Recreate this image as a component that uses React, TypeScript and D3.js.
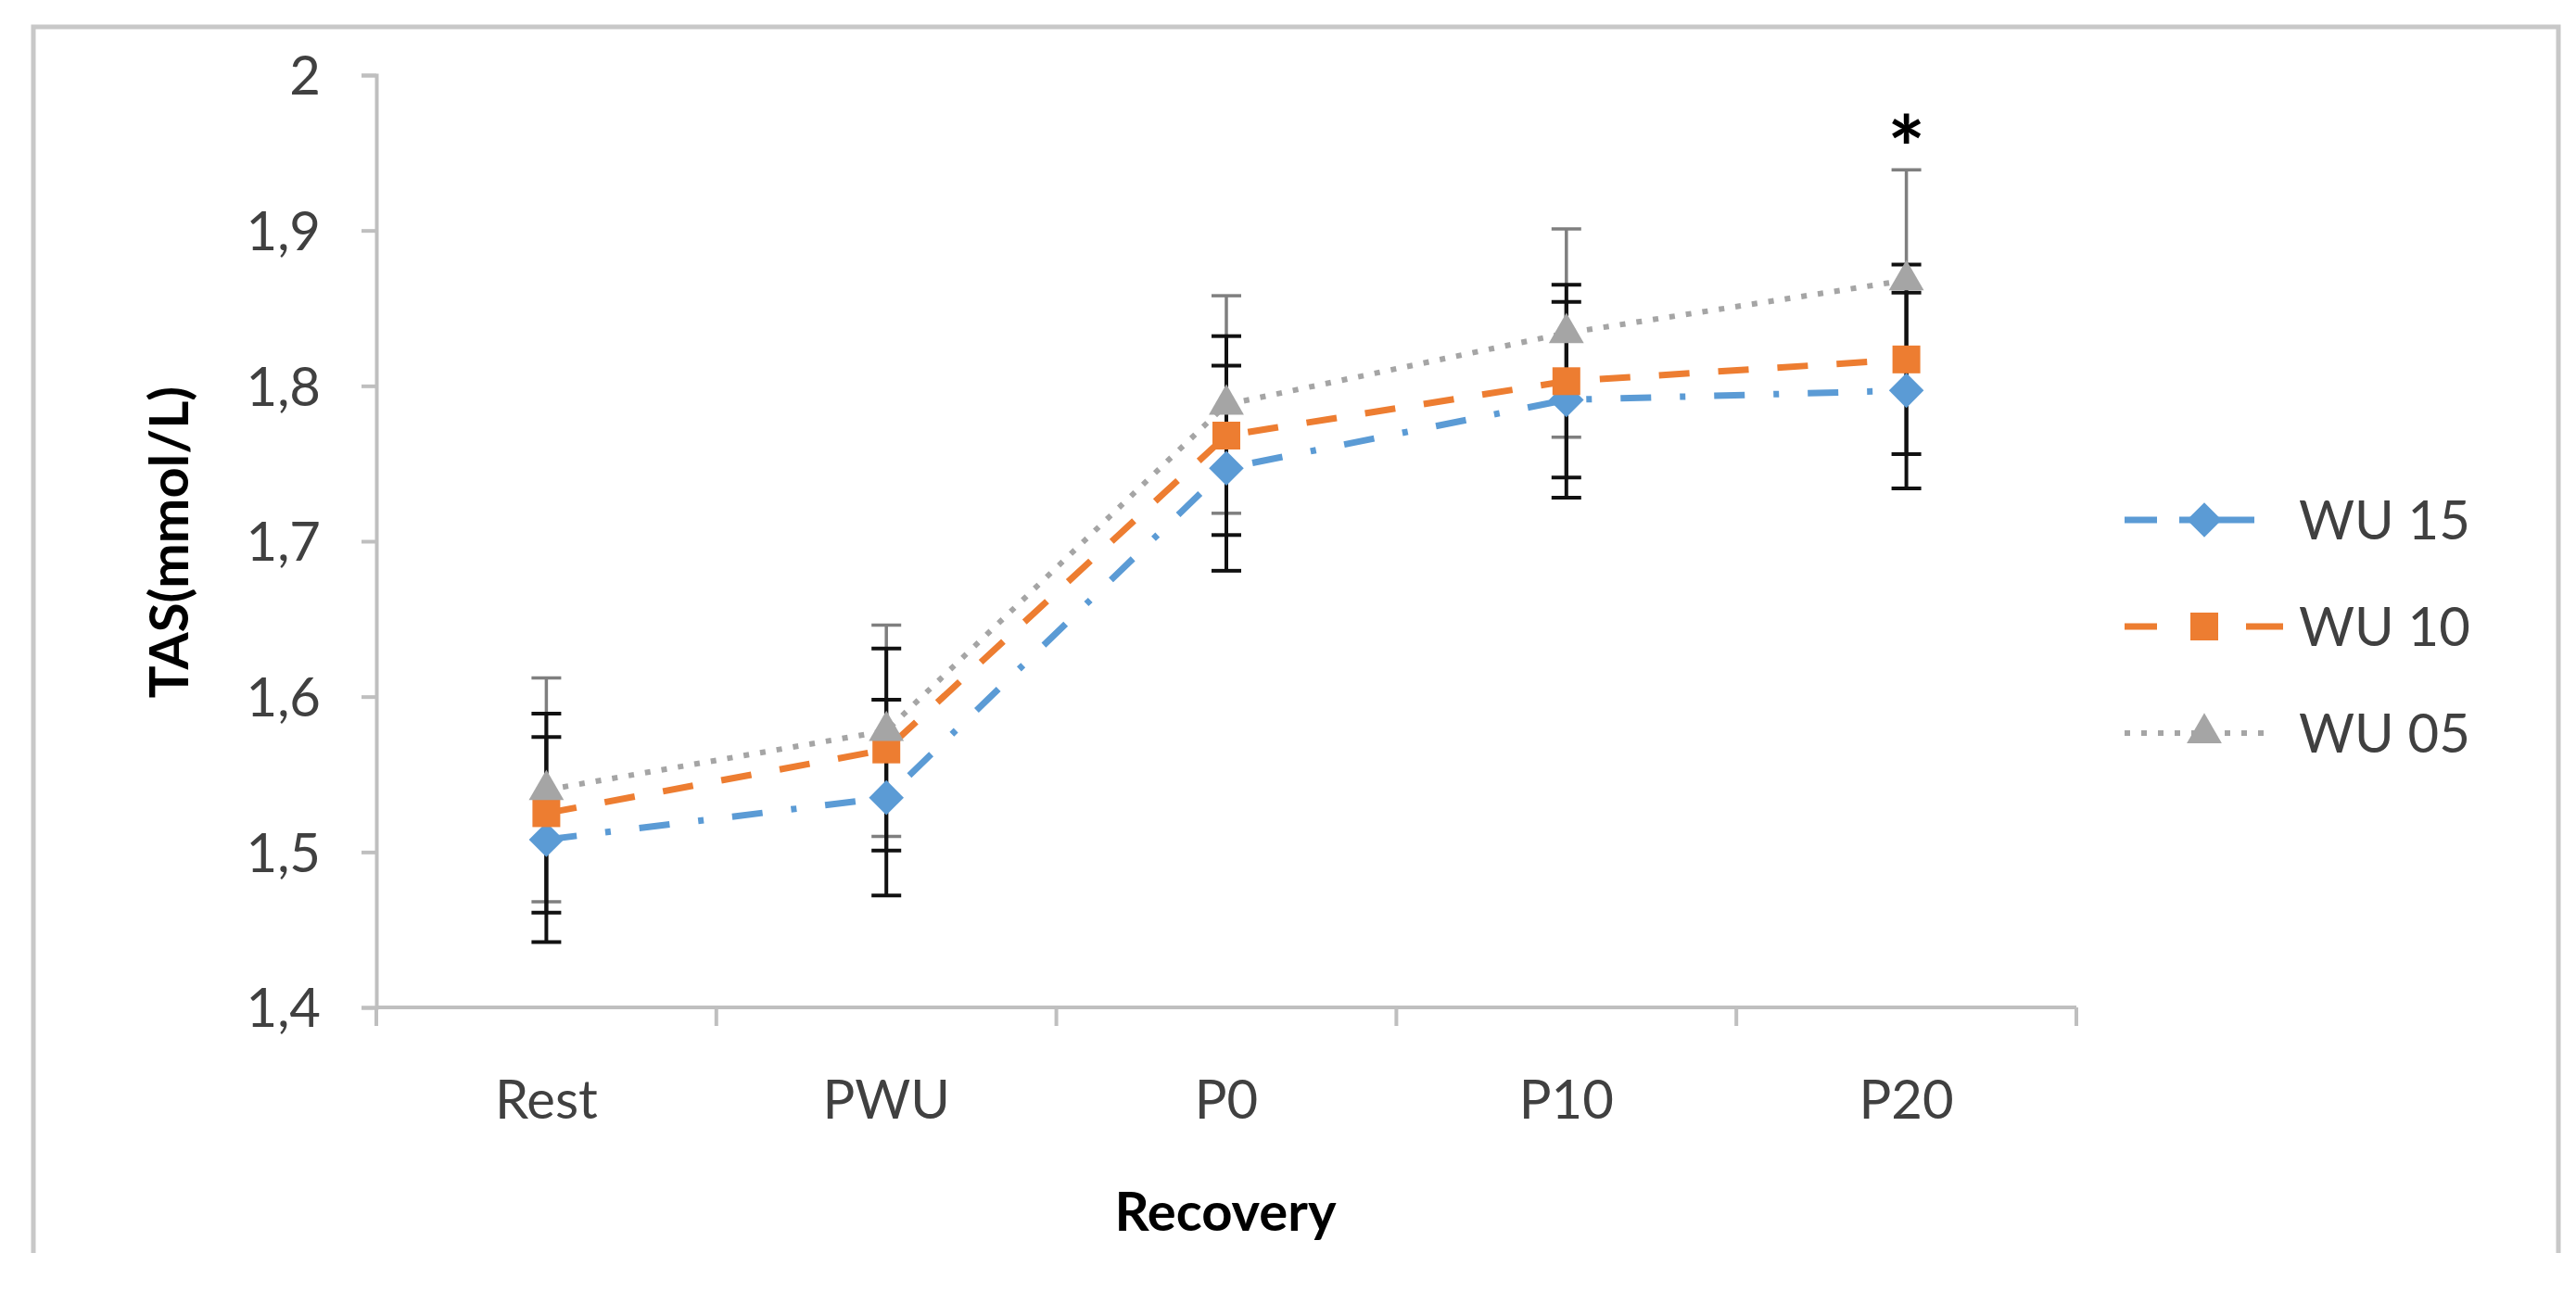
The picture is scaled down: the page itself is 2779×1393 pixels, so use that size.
import * as d3 from 'd3';
import * as React from 'react';

// values (TAS, mmol/L), mean and SD per time point
const categories = ['Rest', 'PWU', 'P0', 'P10', 'P20'];
const seriesNames = ['WU 15', 'WU 10', 'WU 05'];
const wu15Mean = [1.508, 1.535, 1.747, 1.791, 1.797];
const wu15Sd = [0.066, 0.063, 0.066, 0.063, 0.063];
const wu10Mean = [1.525, 1.566, 1.768, 1.803, 1.817];
const wu10Sd = [0.064, 0.065, 0.064, 0.062, 0.061];
const wu05Mean = [1.54, 1.578, 1.788, 1.834, 1.868];
const wu05Sd = [0.072, 0.068, 0.07, 0.067, 0.071];
const yTicks = [1.4, 1.5, 1.6, 1.7, 1.8, 1.9, 2];
const significant = ['P20'];

const W = 2779;
const H = 1393;
const FONT = 'Lato, "Open Sans", sans-serif';

const App = () => {
  const ref = React.useRef<SVGSVGElement | null>(null);

  React.useEffect(() => {
    if (!ref.current) return;
    const svg = d3.select(ref.current);
    svg.selectAll('*').remove();

    const left = 406;
    const right = 2240;
    const top = 81;
    const bottom = 1087;

    const x = d3.scaleBand<string>().domain(categories).range([left, right]).padding(0);
    const cx = (c: string) => (x(c) as number) + x.bandwidth() / 2;
    const y = d3.scaleLinear().domain([1.4, 2]).range([bottom, top]);

    const series = [
      { name: seriesNames[0], mean: wu15Mean, sd: wu15Sd, color: '#5b9bd5', dash: '33,31,6,31', legendDash: '35,24,300', bar: '#111', shape: d3.symbolDiamond2 },
      { name: seriesNames[1], mean: wu10Mean, sd: wu10Sd, color: '#ed7d31', dash: '33,31', legendDash: '35,96,40', bar: '#111', shape: d3.symbolSquare },
      { name: seriesNames[2], mean: wu05Mean, sd: wu05Sd, color: '#a5a5a5', dash: '6,12', legendDash: '6,12', bar: '#7f7f7f', shape: d3.symbolTriangle },
    ];

    // outer frame (bottom edge is cropped in the original)
    const frame = svg.append('g').attr('stroke', '#c8c8c8').attr('stroke-width', 5).attr('fill', 'none');
    frame.append('path').attr('d', `M36,1352 V29 H2760 V1352`);

    // y axis
    const yAxis = svg
      .append('g')
      .attr('transform', `translate(${left},0)`)
      .call(
        d3
          .axisLeft(y)
          .tickValues(yTicks)
          .tickSize(16)
          .tickPadding(44)
          .tickFormat((d) => String(+(+d).toFixed(1)).replace('.', ','))
      );
    yAxis.selectAll('.domain').attr('stroke', '#bfbfbf').attr('stroke-width', 4);
    yAxis.selectAll('.tick line').attr('stroke', '#bfbfbf').attr('stroke-width', 4);
    yAxis
      .selectAll('.tick text')
      .attr('fill', '#404040')
      .style('font-family', FONT)
      .style('font-size', '58px')
      .attr('dy', '0.36em');

    // x axis with ticks between categories
    const xAxis = svg.append('g');
    xAxis.append('line').attr('x1', left).attr('x2', right).attr('y1', bottom).attr('y2', bottom).attr('stroke', '#bfbfbf').attr('stroke-width', 4);
    const bounds = categories.map((c) => x(c) as number).concat([right]);
    xAxis
      .selectAll('.xtick')
      .data(bounds)
      .enter()
      .append('line')
      .attr('x1', (d) => d)
      .attr('x2', (d) => d)
      .attr('y1', bottom)
      .attr('y2', bottom + 20)
      .attr('stroke', '#bfbfbf')
      .attr('stroke-width', 4);
    xAxis
      .selectAll('.xlabel')
      .data(categories)
      .enter()
      .append('text')
      .attr('x', (d) => cx(d))
      .attr('y', 1207)
      .attr('text-anchor', 'middle')
      .attr('fill', '#404040')
      .style('font-family', FONT)
      .style('font-size', '58px')
      .text((d) => d);

    // axis titles
    svg
      .append('text')
      .attr('transform', 'translate(203,585) rotate(-90)')
      .attr('text-anchor', 'middle')
      .attr('fill', '#000')
      .style('font-family', FONT)
      .style('font-weight', 'bold')
      .style('font-size', '58px')
      .text('TAS(mmol/L)');
    svg
      .append('text')
      .attr('x', 1322)
      .attr('y', 1328)
      .attr('text-anchor', 'middle')
      .attr('fill', '#000')
      .style('font-family', FONT)
      .style('font-weight', 'bold')
      .style('font-size', '58px')
      .text('Recovery');

    // error bars (grey series underneath the black ones)
    const capHalf = 16;
    [series[2], series[0], series[1]].forEach((s) => {
      const g = svg.append('g').attr('stroke', s.bar).attr('stroke-width', s.bar === '#111' ? 4 : 3.5);
      categories.forEach((c, i) => {
        const lo = y(s.mean[i] - s.sd[i]);
        const hi = y(s.mean[i] + s.sd[i]);
        g.append('line').attr('x1', cx(c)).attr('x2', cx(c)).attr('y1', lo).attr('y2', hi);
        g.append('line').attr('x1', cx(c) - capHalf).attr('x2', cx(c) + capHalf).attr('y1', lo).attr('y2', lo);
        g.append('line').attr('x1', cx(c) - capHalf).attr('x2', cx(c) + capHalf).attr('y1', hi).attr('y2', hi);
      });
    });

    // lines
    const line = d3
      .line<number>()
      .x((_, i) => cx(categories[i]))
      .y((d) => y(d));
    series.forEach((s) => {
      svg
        .append('path')
        .attr('d', line(s.mean))
        .attr('fill', 'none')
        .attr('stroke', s.color)
        .attr('stroke-width', s.name === 'WU 05' ? 6 : 7)
        .attr('stroke-dasharray', s.dash);
    });

    // markers
    const markerSize = (s) => (s.shape === d3.symbolTriangle ? 620 : 900);
    series.forEach((s) => {
      svg
        .append('g')
        .selectAll('path')
        .data(s.mean)
        .enter()
        .append('path')
        .attr('transform', (d, i) => `translate(${cx(categories[i])},${y(d)})`)
        .attr('d', d3.symbol().type(s.shape).size(markerSize(s))())
        .attr('fill', s.color);
    });

    // significance mark above the highest error bar
    significant.forEach((c) => {
      const i = categories.indexOf(c);
      const topVal = d3.max(series, (s) => s.mean[i] + s.sd[i]) as number;
      svg
        .append('text')
        .attr('x', cx(c))
        .attr('y', y(topVal) + 12)
        .attr('text-anchor', 'middle')
        .attr('fill', '#000')
        .style('font-family', FONT)
        .style('font-weight', 'bold')
        .style('font-size', '96px')
        .text('*');
    });

    // legend
    const legendRows = [561, 676, 791];
    series.forEach((s, k) => {
      const ly = legendRows[k];
      const g = svg.append('g');
      g.append('line')
        .attr('x1', 2292)
        .attr('x2', k === 0 ? 2432 : k === 1 ? 2463 : 2451)
        .attr('y1', ly)
        .attr('y2', ly)
        .attr('stroke', s.color)
        .attr('stroke-width', k === 2 ? 6 : 7)
        .attr('stroke-dasharray', s.legendDash);
      g.append('path')
        .attr('transform', `translate(2378,${ly})`)
        .attr('d', d3.symbol().type(s.shape).size(markerSize(s))())
        .attr('fill', s.color);
      g.append('text')
        .attr('x', 2480)
        .attr('y', ly + 21)
        .attr('fill', '#404040')
        .style('font-family', FONT)
        .style('font-size', '58px')
        .text(s.name);
    });
  }, []);

  return (
    <svg
      ref={ref}
      width={W}
      height={H}
      style={{ position: 'absolute', left: 0, top: 0, background: '#fff' }}
    />
  );
};

export default App;
